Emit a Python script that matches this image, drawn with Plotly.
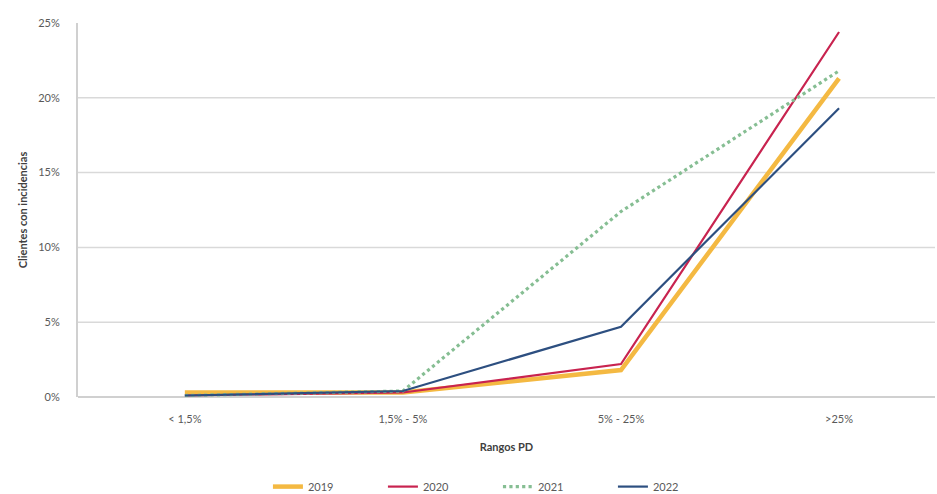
import plotly.graph_objects as go

# PD buckets and share of clients with incidents (%) per year
categories = ["< 1,5%", "1,5% - 5%", "5% - 25%", ">25%"]
years = ["2019", "2020", "2021", "2022"]
values_2019 = [0.3, 0.3, 1.8, 21.3]
values_2020 = [0.1, 0.3, 2.2, 24.4]
values_2021 = [0.1, 0.4, 12.4, 21.8]
values_2022 = [0.1, 0.4, 4.7, 19.3]
y_ticks = [0, 5, 10, 15, 20, 25]
y_tick_labels = ["0%", "5%", "10%", "15%", "20%", "25%"]

series = [
    (years[0], values_2019, dict(color="#F4B942", width=4.5, dash="solid")),
    (years[1], values_2020, dict(color="#C8234F", width=2.2, dash="solid")),
    (years[2], values_2021, dict(color="#86BE93", width=3.2, dash="dot")),
    (years[3], values_2022, dict(color="#2D4F80", width=2.2, dash="solid")),
]

x_pos = list(range(len(categories)))

fig = go.Figure()
for name, vals, line in series:
    fig.add_trace(go.Scatter(x=x_pos, y=vals, mode="lines", name=name, line=line))

# horizontal gridlines for the inner ticks only (no line at the top of the axis)
for v in y_ticks[1:-1]:
    fig.add_shape(
        type="line", xref="paper", yref="y", x0=0, x1=1, y0=v, y1=v,
        line=dict(color="#D9D9D9", width=1.5), layer="below",
    )

font_family = "Lato, 'Liberation Sans', sans-serif"

fig.update_layout(
    width=937,
    height=494,
    margin=dict(l=78, r=2, t=23, b=97, autoexpand=False),
    paper_bgcolor="white",
    plot_bgcolor="white",
    font=dict(family=font_family, color="#595959", size=11),
    showlegend=True,
    legend=dict(
        orientation="h",
        x=0.49,
        xanchor="center",
        yref="container",
        y=0.015,
        yanchor="middle",
        font=dict(size=11, color="#595959"),
        traceorder="normal",
        entrywidth=70,
        entrywidthmode="pixels",
    ),
    xaxis=dict(
        range=[-0.49, 3.44],
        tickvals=x_pos,
        ticktext=categories,
        showgrid=False,
        zeroline=False,
        showline=False,
        ticks="",
        ticklabelstandoff=14,
        tickfont=dict(size=11, color="#595959"),
        title=dict(text="<b>Rangos PD</b>", font=dict(size=11, color="#404040"), standoff=19),
    ),
    yaxis=dict(
        range=[0, 25],
        tickvals=y_ticks,
        ticktext=y_tick_labels,
        showgrid=False,
        zeroline=True,
        zerolinecolor="#D0D0D0",
        zerolinewidth=2,
        showline=True,
        linecolor="#D0D0D0",
        linewidth=2,
        ticks="",
        ticklabelstandoff=14,
        tickfont=dict(size=11, color="#595959"),
        title=dict(text="<b>Clientes con incidencias</b>", font=dict(size=11, color="#404040"), standoff=8),
    ),
)

fig.write_html("out.html")
